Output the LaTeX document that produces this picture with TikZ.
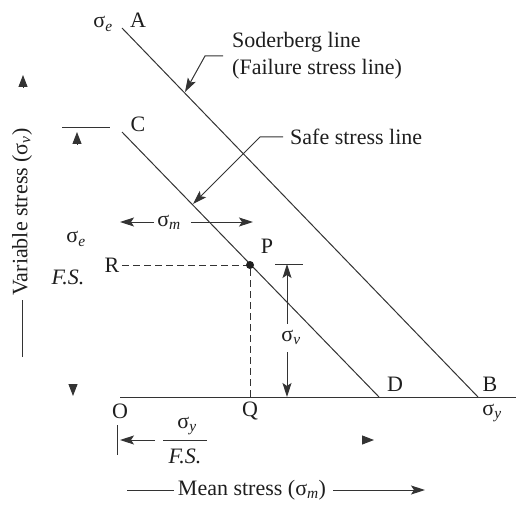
\documentclass[tikz,border=0pt]{standalone}
\usepackage{fontspec}
\setmainfont{Liberation Serif}
\usepackage{tikz}
\usetikzlibrary{arrows.meta,positioning,calc}
\definecolor{sdink}{HTML}{1E1E1E}
\definecolor{sdline}{HTML}{333333}
\tikzset{
  sdlbl/.style={inner sep=0pt,font=\fontsize{22}{27}\selectfont,text=sdink},
  sdthin/.style={draw=sdline,line width=1pt},
  sdarr/.style={sdthin,-{Stealth[length=14pt,width=9pt,inset=3pt]}},
  sdhead/.style={sdthin,-{Triangle[length=12pt,width=9pt]}},
}
\newcommand{\sdsig}[1]{σ\textsubscript{\itshape #1}}

\begin{document}
\begin{tikzpicture}[x=1pt,y=-1pt]
  \useasboundingbox (0,0) rectangle (516,505);
  % corner points of the two lines
  \coordinate (a) at (122,28);
  \coordinate (b) at (478,397);
  \coordinate (c) at (122,132);
  \coordinate (d) at (379,397);
  \coordinate (o) at (120,397);
  \coordinate (xend) at (516,397);
  \coordinate (p) at (250,265);
  \coordinate (q) at (250,397);
  \coordinate (r) at (122,265);
  \draw[sdthin] (o) -- (xend);
  \draw[sdthin] (a) -- (b);
  \draw[sdthin] (c) -- (d);
  \draw[sdthin,dash pattern=on 7pt off 4pt] (r) -- (p) -- (q);
  \fill[sdink] (p) circle (4pt);
  % point labels
  \node[sdlbl] (sigeA) at (103,24) {\sdsig{e}};
  \node[sdlbl] (lA) at (138,20) {A};
  \node[sdlbl] (lC) at (138,124) {C};
  \node[sdlbl] (lP) at (267,246) {P};
  \node[sdlbl] (lR) at (112,265) {R};
  \node[sdlbl] (lQ) at (250,411) {Q};
  \node[sdlbl] (lO) at (120,411) {O};
  \node[sdlbl] (lD) at (395,384) {D};
  \node[sdlbl] (lB) at (490,384) {B};
  \node[sdlbl] (sigyB) at (492,413) {\sdsig{y}};
  % leaders to the two lines
  \node[sdlbl,anchor=west,align=left] (sod) at (232,56) {Soderberg line\\(Failure stress line)};
  \coordinate (sodtip) at (185,92);
  \draw[sdarr] ([xshift=-9pt]sod.west) -- ++(-18,0) -- (sodtip);
  \node[sdlbl,anchor=west] (safe) at (290,137) {Safe stress line};
  \coordinate (safetip) at (193,204);
  \draw[sdarr] ([xshift=-7pt]safe.west) -- ++(-23,0) -- (safetip);
  % sigma_m
  \node[sdlbl] (sm) at (169,222) {\sdsig{m}};
  \coordinate (mleft) at (120,222);
  \coordinate (mright) at (253,222);
  \draw[sdarr] ([xshift=-3pt]sm.west) -- (mleft);
  \draw[sdarr] ([xshift=10pt]sm.east) -- (mright);
  % sigma_v
  \coordinate (vtop) at (287,264);
  \coordinate (vbot) at (287,397);
  \draw[sdthin] (275,264) -- (303,264);
  \node[sdlbl] (sv) at (291,337) {\sdsig{v}};
  \draw[sdarr] (vtop |- sv.north) ++(0,-6) -- (vtop);
  \draw[sdarr] (vbot |- sv.south) ++(0,8) -- (vbot);
  % sigma_e / F.S.
  \draw[sdthin] (62,128) -- (110,128);
  \coordinate (lup) at (77,132);
  \coordinate (ldn) at (73,396);
  \draw[sdhead] ($(lup)+(0,12)$) -- (lup);
  \draw[sdhead] ($(ldn)+(0,-12)$) -- (ldn);
  \node[sdlbl] (sigeL) at (76,239) {\sdsig{e}};
  \node[sdlbl,font=\fontsize{22}{27}\selectfont\itshape] (fsL) at (68,277) {F.S.};
  % sigma_y / F.S.
  \draw[sdthin] (117,425) -- (117,455);
  \coordinate (yleft) at (120,440);
  \coordinate (yright) at (374,440);
  \node[sdlbl] (sigyF) at (187,426) {\sdsig{y}};
  \node[sdlbl,font=\fontsize{22}{27}\selectfont\itshape] (fsF) at (185,456) {F.S.};
  \draw[sdthin] (163,440) -- (207,440);
  \draw[sdarr] (155,440) -- (yleft);
  \draw[sdhead] ($(yright)+(-12,0)$) -- (yright);
  % axis titles
  \node[sdlbl] (ms) at (252,490) {Mean stress (\sdsig{m})};
  \draw[sdthin] (127,490) -- ([xshift=-4pt]ms.west);
  \draw[sdarr] ([xshift=7pt]ms.east) -- (425,490);
  \node[sdlbl,rotate=90] (vs) at (22,212) {Variable stress (\sdsig{v})};
  \coordinate (vtip) at (23,75);
  \draw[sdthin] (22,357) -- ([yshift=-4pt]vs.west);
  \draw[sdhead] ($(vtip)+(0,12)$) -- (vtip);
\end{tikzpicture}
\end{document}
